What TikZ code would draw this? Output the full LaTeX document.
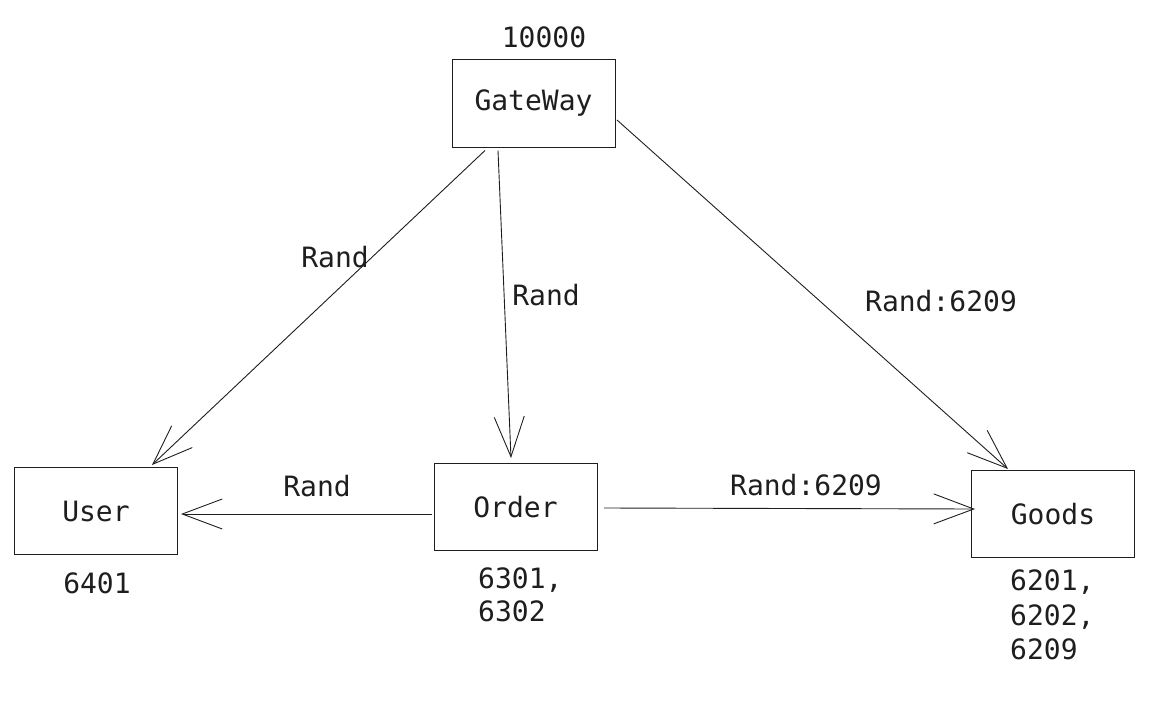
\documentclass[tikz,border=0pt]{standalone}
\usepackage{fontspec}
\setmainfont{DejaVu Sans Mono}
\usetikzlibrary{arrows.meta,calc}
\definecolor{ink}{HTML}{1E1E1E}
\tikzset{
  box/.style={draw=ink, line width=1pt, minimum width=163pt, minimum height=87pt, inner sep=0pt, text=ink, font=\fontsize{28}{33}\selectfont},
  lbl/.style={text=ink, inner sep=0pt, font=\fontsize{28}{34.5}\selectfont, align=left},
  conn/.style={draw=ink, line width=0.9pt, -{Straight Barb[length=40pt,width=30pt,line width=0.9pt]}}
}
\begin{document}
\begin{tikzpicture}[x=1pt,y=-1pt]
\useasboundingbox (0,0) rectangle (1156,717);
\node[box] (gw) at (533.5,103.5) {GateWay};
\node[box] (user) at (96,511) {User};
\node[box] (order) at (515.5,507) {Order};
\node[box] (goods) at (1053,514) {Goods};

\node[lbl] (t10000) at (544,37) {10000};
\node[lbl] (t6401) at (97,583) {6401};
\node[lbl, anchor=north west, font=\fontsize{28}{32.5}\selectfont] (torder) at (478,568) {6301,\\6302};
\node[lbl, anchor=north west] (tgoods) at (1010,570) {6201,\\6202,\\6209};

\draw[conn] ($(gw.south)+(-48.5,3)$) -- ($(user.north)+(56,-2)$);
\draw[conn] ($(gw.south)+(-35.5,3)$) -- ($(order.north)+(-4.5,-5)$);
\draw[conn] ($(gw.east)+(1.5,16.5)$) -- ($(goods.north)+(-45,-1)$);
\draw[conn] ($(order.west)+(-1.5,7)$) -- ($(user.east)+(3,3)$);
\draw[conn] ($(order.east)+(6.5,1)$) -- ($(goods.west)+(4,-5)$);

\node[lbl] (l1) at (335,257) {Rand};
\node[lbl] (l2) at (546,295) {Rand};
\node[lbl] (l3) at (941,301) {Rand:6209};
\node[lbl] (l4) at (317,486) {Rand};
\node[lbl] (l5) at (806,485) {Rand:6209};
\end{tikzpicture}
\end{document}
